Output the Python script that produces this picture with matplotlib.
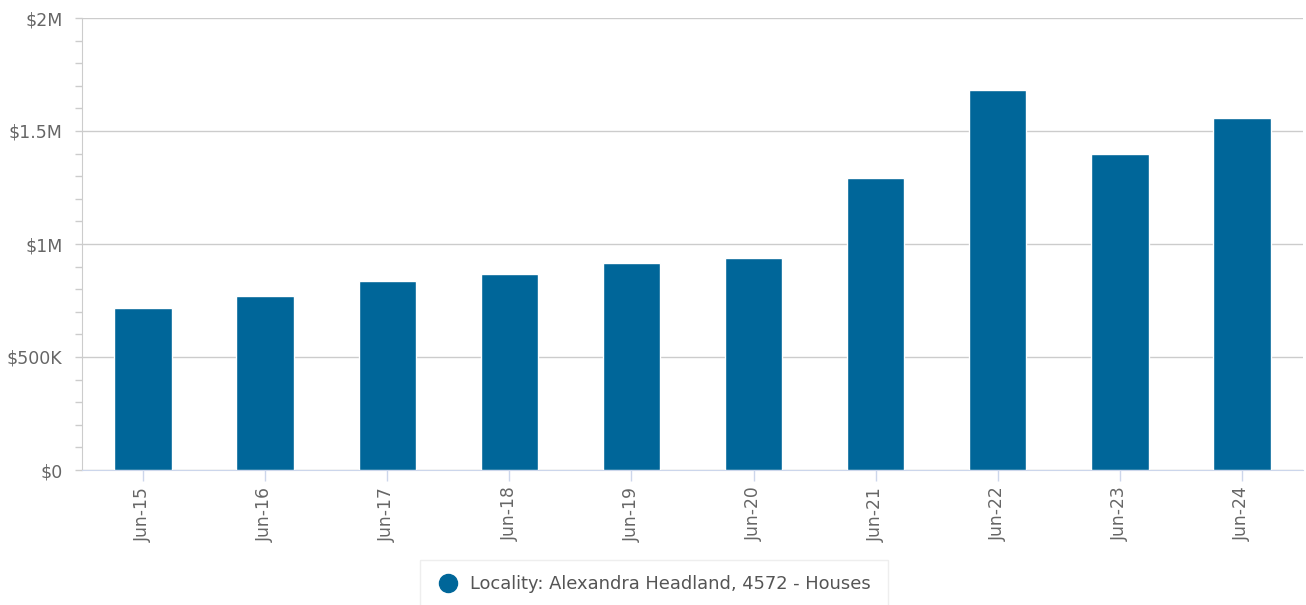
import matplotlib
matplotlib.use("Agg")
import matplotlib.pyplot as plt
from matplotlib.ticker import FuncFormatter, MultipleLocator
from matplotlib.patches import Rectangle
from matplotlib.lines import Line2D

plt.rcParams["font.family"] = ["DejaVu Sans"]

categories = ["Jun-15", "Jun-16", "Jun-17", "Jun-18", "Jun-19",
              "Jun-20", "Jun-21", "Jun-22", "Jun-23", "Jun-24"]
values = [717000, 770000, 836000, 867000, 916000,
          938000, 1292000, 1681000, 1398000, 1558000]
series_name = "Locality: Alexandra Headland, 4572 - Houses"
bar_color = "#006699"

W, H = 1306, 605
fig = plt.figure(figsize=(W / 100, H / 100), dpi=100)
ax = fig.add_axes([82 / W, 1 - 470 / H, (1303 - 82) / W, (470 - 18) / H])

x = list(range(len(categories)))
ax.bar(x, values, width=0.47, color=bar_color, edgecolor="white", linewidth=1, zorder=3)
ax.set_xlim(-0.5, len(categories) - 0.5)
ax.set_ylim(0, 2_000_000)

def fmt(v, pos):
    if v == 0:
        return "$0"
    if v >= 1_000_000:
        return f"${v / 1_000_000:g}M"
    return f"${v / 1000:g}K"

ax.yaxis.set_major_locator(MultipleLocator(500_000))
ax.yaxis.set_minor_locator(MultipleLocator(100_000))
ax.yaxis.set_major_formatter(FuncFormatter(fmt))
ax.grid(axis="y", which="major", color="#cccccc", linewidth=1, zorder=0)

ax.set_xticks(x)
ax.set_xticklabels(categories, rotation=90)
ax.tick_params(axis="x", colors="#ccd6eb", length=8, width=1, labelcolor="#666666",
               labelsize=12.3, pad=4)
ax.tick_params(axis="y", which="major", colors="#cccccc", length=5, width=1,
               labelcolor="#666666", labelsize=12.5, pad=9)
ax.tick_params(axis="y", which="minor", colors="#cccccc", length=5, width=1)

for s in ["top", "right"]:
    ax.spines[s].set_visible(False)
ax.spines["left"].set_color("#cccccc")
ax.spines["bottom"].set_color("#ccd6eb")

def fx(px):
    return px / W

def fy(py):
    return 1 - py / H

# Legend box (extends past the bottom edge as in the reference)
fig.patches.append(Rectangle((fx(420), fy(615)), fx(888) - fx(420), fy(560) - fy(615),
                             transform=fig.transFigure, facecolor="white",
                             edgecolor="#eeeeee", linewidth=1, zorder=0))
fig.add_artist(Line2D([fx(448)], [fy(583)], marker="o", markersize=13,
                      markerfacecolor=bar_color, markeredgecolor=bar_color,
                      linestyle="none", transform=fig.transFigure))
fig.text(fx(470), fy(584), series_name, fontsize=12.9, color="#555555",
         va="center", ha="left")

fig.savefig("out.png", dpi=100)
